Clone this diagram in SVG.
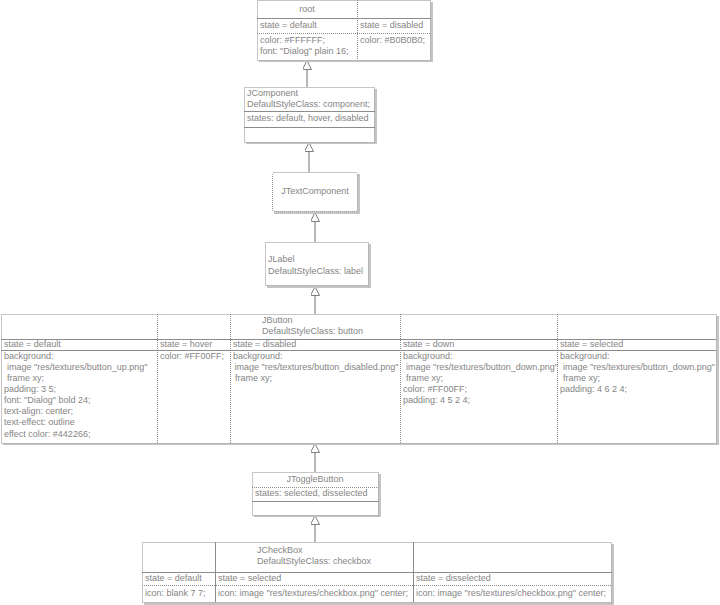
<svg xmlns="http://www.w3.org/2000/svg" width="720" height="605" viewBox="0 0 720 605">
  <style>
    text { font-family: "Liberation Sans", Arial, sans-serif; font-size: 9px; fill: #858585; dominant-baseline: middle; }
    .mid { text-anchor: middle; }
    .box { fill: #ffffff; stroke: #8c8c8c; stroke-width: 1; stroke-dasharray: 1 1; }
    .shadow { fill: #c4c4c4; }
    .sep { stroke: #8c8c8c; stroke-width: 1; }
    .dot { stroke: #8c8c8c; stroke-width: 1; stroke-dasharray: 1 1; }
    .edge { stroke: #707070; stroke-width: 1; fill: none; marker-end: url(#inherit); }
  </style>
  <defs>
    <marker id="inherit" viewBox="0 0 10 10" refX="10" refY="5" markerWidth="9" markerHeight="9" orient="auto" markerUnits="userSpaceOnUse">
      <path d="M0,0 L10,5 L0,10 Z" fill="#ffffff" stroke="#707070" stroke-width="1"/>
    </marker>
  </defs>

  <rect width="720" height="605" fill="#ffffff"/>

  <!-- inheritance connectors: child top up to parent bottom -->
  <g id="connectors">
    <line class="edge" x1="307" y1="87" x2="307" y2="60.5"/>
    <line class="edge" x1="309" y1="172" x2="309" y2="142.5"/>
    <line class="edge" x1="315" y1="242" x2="315" y2="212.5"/>
    <line class="edge" x1="315" y1="314" x2="315" y2="286.5"/>
    <line class="edge" x1="315" y1="472" x2="315" y2="443.5"/>
    <line class="edge" x1="315" y1="542" x2="315" y2="515.5"/>
  </g>

  <!-- root style table -->
  <g id="root">
    <rect class="shadow" x="259" y="2" width="174" height="60"/>
    <rect class="box" x="257.5" y="0.5" width="173" height="60"/>
    <line class="dot" x1="357.5" y1="0" x2="357.5" y2="60"/>
    <line class="sep" x1="257" y1="18.5" x2="431" y2="18.5"/>
    <line class="dot" x1="257" y1="33.5" x2="431" y2="33.5"/>
    <text class="mid" x="307" y="10">root</text>
    <text x="260" y="26">state = default</text>
    <text x="360" y="26">state = disabled</text>
    <text x="260" y="41">color: #FFFFFF;</text>
    <text x="260" y="52">font: "Dialog" plain 16;</text>
    <text x="360" y="41">color: #B0B0B0;</text>
  </g>

  <!-- JComponent -->
  <g id="jcomponent">
    <rect class="shadow" x="246" y="89" width="131" height="55"/>
    <rect class="box" x="244.5" y="87.5" width="130" height="55"/>
    <text x="247" y="94">JComponent</text>
    <text x="247" y="105">DefaultStyleClass: component;</text>
    <line class="sep" x1="244" y1="111.5" x2="375" y2="111.5"/>
    <text x="247" y="119">states: default, hover, disabled</text>
    <line class="sep" x1="244" y1="127.5" x2="375" y2="127.5"/>
  </g>

  <!-- JTextComponent -->
  <g id="jtextcomponent">
    <rect class="shadow" x="274" y="174" width="86" height="40"/>
    <rect class="box" x="272.5" y="172.5" width="85" height="39" rx="2"/>
    <text class="mid" x="315" y="192">JTextComponent</text>
  </g>

  <!-- JLabel -->
  <g id="jlabel">
    <rect class="shadow" x="267" y="244" width="104" height="44"/>
    <rect class="box" x="265.5" y="242.5" width="103" height="43"/>
    <text x="268" y="260">JLabel</text>
    <text x="268" y="272">DefaultStyleClass: label</text>
  </g>

  <!-- JButton style table -->
  <g id="jbutton">
    <rect class="shadow" x="3" y="316" width="716" height="129"/>
    <rect class="box" x="1.5" y="314.5" width="715" height="129"/>
    <line class="dot" x1="157.5" y1="314" x2="157.5" y2="443"/>
    <line class="dot" x1="230.5" y1="314" x2="230.5" y2="443"/>
    <line class="dot" x1="400.5" y1="314" x2="400.5" y2="443"/>
    <line class="dot" x1="557.5" y1="314" x2="557.5" y2="443"/>
    <line class="sep" x1="1" y1="339.5" x2="716" y2="339.5"/>
    <line class="sep" x1="1" y1="350.5" x2="716" y2="350.5"/>
    <text x="262" y="321">JButton</text>
    <text x="262" y="332">DefaultStyleClass: button</text>
    <text x="4" y="345">state = default</text>
    <text x="160" y="345">state = hover</text>
    <text x="233" y="345">state = disabled</text>
    <text x="403" y="345">state = down</text>
    <text x="560" y="345">state = selected</text>

    <text x="4" y="357">background:</text>
    <text x="7" y="368">image "res/textures/button_up.png"</text>
    <text x="7" y="379">frame xy;</text>
    <text x="4" y="390">padding: 3 5;</text>
    <text x="4" y="401">font: "Dialog" bold 24;</text>
    <text x="4" y="412">text-align: center;</text>
    <text x="4" y="423">text-effect: outline</text>
    <text x="4" y="435">effect color: #442266;</text>

    <text x="160" y="357">color: #FF00FF;</text>

    <text x="233" y="357">background:</text>
    <text x="234.5" y="368">image "res/textures/button_disabled.png"</text>
    <text x="235" y="379">frame xy;</text>

    <text x="403" y="357">background:</text>
    <text x="406" y="368">image "res/textures/button_down.png"</text>
    <text x="406" y="379">frame xy;</text>
    <text x="403" y="390">color: #FF00FF;</text>
    <text x="403" y="401">padding: 4 5 2 4;</text>

    <text x="560" y="357">background:</text>
    <text x="563" y="368">image "res/textures/button_down.png"</text>
    <text x="563" y="379">frame xy;</text>
    <text x="560" y="390">padding: 4 6 2 4;</text>
  </g>

  <!-- JToggleButton -->
  <g id="jtogglebutton">
    <rect class="shadow" x="254" y="474" width="127" height="43"/>
    <rect class="box" x="252.5" y="472.5" width="126" height="43"/>
    <text class="mid" x="315" y="480">JToggleButton</text>
    <line class="dot" x1="252" y1="487.5" x2="379" y2="487.5"/>
    <text x="255" y="494">states: selected, disselected</text>
    <line class="sep" x1="252" y1="501.5" x2="379" y2="501.5"/>
  </g>

  <!-- JCheckBox style table -->
  <g id="jcheckbox">
    <rect class="shadow" x="144" y="544" width="470" height="61"/>
    <rect class="box" x="142.5" y="542.5" width="469" height="60"/>
    <line class="sep" x1="215.5" y1="542" x2="215.5" y2="602"/>
    <line class="sep" x1="413.5" y1="542" x2="413.5" y2="602"/>
    <line class="sep" x1="142" y1="572.5" x2="612" y2="572.5"/>
    <line class="dot" x1="142" y1="585.5" x2="612" y2="585.5"/>
    <text x="257" y="551">JCheckBox</text>
    <text x="257" y="562">DefaultStyleClass: checkbox</text>
    <text x="145" y="579">state = default</text>
    <text x="218" y="579">state = selected</text>
    <text x="416" y="579">state = disselected</text>
    <text x="145" y="594">icon: blank 7 7;</text>
    <text x="218" y="594">icon: image "res/textures/checkbox.png" center;</text>
    <text x="416" y="594">icon: image "res/textures/checkbox.png" center;</text>
  </g>
</svg>
